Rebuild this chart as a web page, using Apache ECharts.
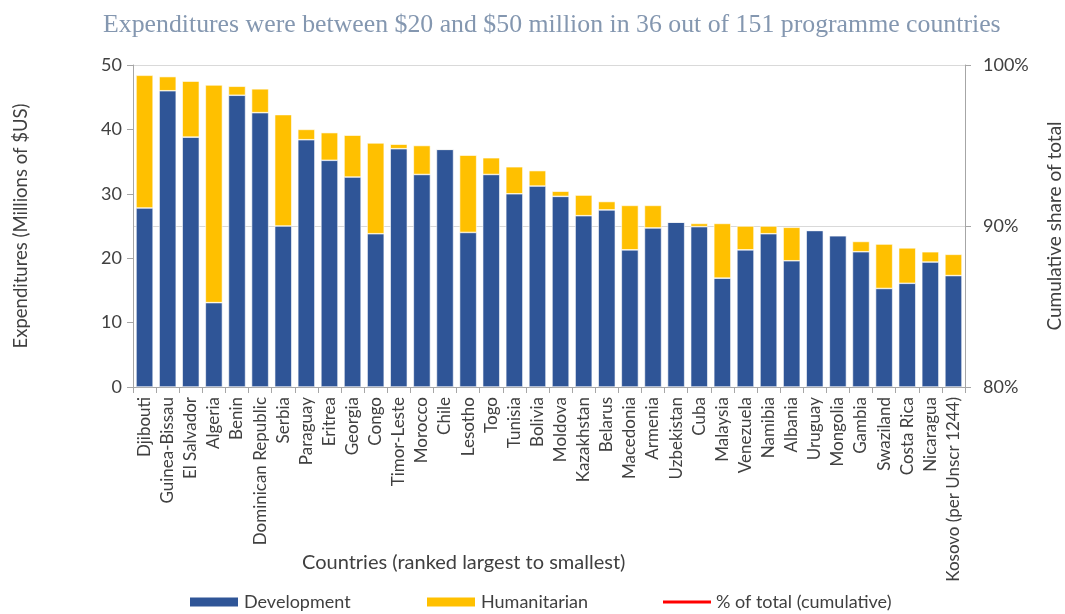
<!DOCTYPE html>
<html>
<head>
<meta charset="utf-8">
<script src="https://cdn.jsdelivr.net/npm/echarts@6/dist/echarts.min.js"></script>
<style>
  html, body { margin: 0; padding: 0; background: #fff; }
  #chart { width: 1065px; height: 614px; }
</style>
</head>
<body>
<div id="chart"></div>
<script>
// Programme countries with expenditures between $20M and $50M, ranked largest to smallest
const countries = [
  'Djibouti', 'Guinea-Bissau', 'El Salvador', 'Algeria', 'Benin', 'Dominican Republic',
  'Serbia', 'Paraguay', 'Eritrea', 'Georgia', 'Congo', 'Timor-Leste', 'Morocco', 'Chile',
  'Lesotho', 'Togo', 'Tunisia', 'Bolivia', 'Moldova', 'Kazakhstan', 'Belarus', 'Macedonia',
  'Armenia', 'Uzbekistan', 'Cuba', 'Malaysia', 'Venezuela', 'Namibia', 'Albania', 'Uruguay',
  'Mongolia', 'Gambia', 'Swaziland', 'Costa Rica', 'Nicaragua', 'Kosovo (per Unscr 1244)'
];

// Development expenditures (millions of $US)
const development = [
  27.8, 46.0, 38.8, 13.1, 45.3, 42.6, 25.0, 38.4, 35.2, 32.6, 23.8, 37.0, 33.0, 36.9,
  24.0, 33.0, 30.0, 31.2, 29.6, 26.6, 27.5, 21.3, 24.7, 25.6, 24.9, 16.9, 21.3, 23.8,
  19.6, 24.3, 23.5, 21.0, 15.3, 16.1, 19.4, 17.3
];

// Humanitarian expenditures (millions of $US)
const humanitarian = [
  20.6, 2.2, 8.7, 33.8, 1.4, 3.7, 17.3, 1.6, 4.3, 6.5, 14.1, 0.7, 4.5, 0.1,
  12.0, 2.6, 4.2, 2.4, 0.8, 3.2, 1.3, 6.9, 3.5, 0.0, 0.5, 8.5, 3.7, 1.2,
  5.2, 0.0, 0.0, 1.6, 6.9, 5.5, 1.6, 3.3
];

// Cumulative share of total; no points fall inside the 80%–100% window shown
const cumulativeShare = [];

const leftTicks = { min: 0, max: 50, interval: 10 };
const rightTicks = { min: 0.8, max: 1.0, interval: 0.1 };

const labelFont = 'Lato, "Open Sans", "Liberation Sans", sans-serif';
const axisGray = '#a6a6a6';
const textGray = '#404040';
const legendText = { fontSize: 18, color: textGray, fontFamily: labelFont };

const chart = echarts.init(document.getElementById('chart'), null, { renderer: 'canvas' });

chart.setOption({
  animation: false,
  backgroundColor: '#ffffff',
  textStyle: { fontFamily: labelFont },
  title: {
    text: 'Expenditures were between $20 and $50 million in 36 out of 151 programme countries',
    left: 98,
    top: 7,
    textStyle: {
      fontFamily: '"Liberation Serif", "DejaVu Serif", serif',
      fontSize: 25.8,
      fontWeight: 'normal',
      color: '#8497b0'
    }
  },
  legend: [
    {
      top: 588, left: 183, itemWidth: 50, itemHeight: 11, itemGap: 8,
      textStyle: legendText,
      data: [{ name: 'Development', icon: 'rect' }]
    },
    {
      top: 588, left: 420, itemWidth: 50, itemHeight: 11,
      textStyle: legendText,
      data: [{ name: 'Humanitarian', icon: 'rect' }]
    },
    {
      top: 588, left: 658, itemWidth: 48, itemHeight: 11,
      textStyle: legendText,
      data: [{ name: '% of total (cumulative)', icon: 'path://M0,4 L50,4 L50,7 L0,7 Z' }]
    }
  ],
  grid: { left: 133, right: 100, top: 65, bottom: 227, containLabel: false, outerBoundsMode: 'none' },
  xAxis: {
    type: 'category',
    data: countries,
    axisLine: { lineStyle: { color: axisGray } },
    axisTick: { show: true, alignWithLabel: false, length: 6, lineStyle: { color: axisGray } },
    axisLabel: {
      rotate: 90,
      interval: 0,
      fontSize: 17,
      color: textGray,
      margin: 10,
      fontFamily: labelFont
    }
  },
  yAxis: [
    {
      type: 'value',
      min: leftTicks.min,
      max: leftTicks.max,
      interval: leftTicks.interval,
      name: 'Expenditures (Millions of $US)',
      nameLocation: 'middle',
      nameGap: 102,
      nameRotate: 90,
      nameTextStyle: { fontSize: 18.5, color: textGray, fontFamily: labelFont },
      axisLine: { show: true, lineStyle: { color: axisGray } },
      axisTick: { show: true, length: 6, lineStyle: { color: axisGray } },
      axisLabel: { fontSize: 18, color: textGray, margin: 11 },
      splitLine: { show: false }
    },
    {
      type: 'value',
      min: rightTicks.min,
      max: rightTicks.max,
      interval: rightTicks.interval,
      position: 'right',
      name: 'Cumulative share of total',
      nameLocation: 'middle',
      nameGap: 80,
      nameRotate: 90,
      nameTextStyle: { fontSize: 19, color: textGray, fontFamily: labelFont },
      axisLine: { show: true, lineStyle: { color: axisGray } },
      axisTick: { show: true, length: 6, lineStyle: { color: axisGray } },
      axisLabel: {
        fontSize: 18,
        color: textGray,
        margin: 18,
        formatter: v => Math.round(v * 100) + '%'
      },
      splitLine: { show: true, lineStyle: { color: '#d9d9d9', width: 1 } }
    }
  ],
  graphic: [
    {
      type: 'text',
      left: 302,
      top: 553,
      style: {
        text: 'Countries (ranked largest to smallest)',
        fontSize: 20,
        fill: textGray,
        fontFamily: labelFont
      }
    }
  ],
  series: [
    {
      name: 'Development',
      type: 'bar',
      stack: 'total',
      data: development,
      barCategoryGap: '26%',
      itemStyle: { color: '#2f5597', borderColor: '#ffffff', borderWidth: 0.6 }
    },
    {
      name: 'Humanitarian',
      type: 'bar',
      stack: 'total',
      data: humanitarian,
      itemStyle: { color: '#ffc000', borderColor: '#ffffff', borderWidth: 0.6 }
    },
    {
      name: '% of total (cumulative)',
      type: 'line',
      yAxisIndex: 1,
      data: cumulativeShare,
      symbol: 'none',
      lineStyle: { color: '#ff0000', width: 3 },
      itemStyle: { color: '#ff0000' }
    }
  ]
});
</script>
</body>
</html>
